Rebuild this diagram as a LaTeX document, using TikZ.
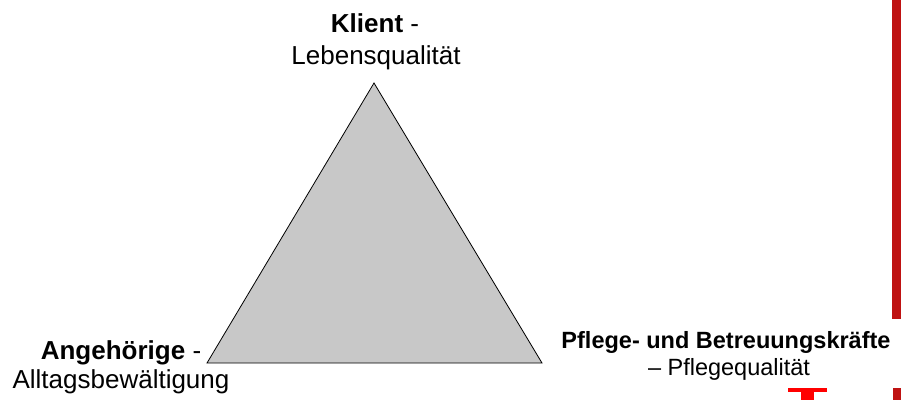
\documentclass[tikz,border=0pt]{standalone}
\usepackage{fontspec}
\setmainfont{Liberation Sans}
\definecolor{darkred}{HTML}{BF1212}
\definecolor{brightred}{HTML}{FF0000}
\definecolor{trigray}{HTML}{C8C8C8}
\tikzset{
  biglabel/.style={anchor=base, inner sep=0pt, font=\fontsize{26}{30}\selectfont},
  smalllabel/.style={anchor=base, inner sep=0pt, font=\fontsize{23.5}{28}\selectfont},
}
\begin{document}
\begin{tikzpicture}[x=1pt,y=-1pt]
\useasboundingbox (0,0) rectangle (901,400);
% triangle
\coordinate (top) at (374,83);
\coordinate (bl) at (207,363);
\coordinate (br) at (542,363);
\draw[fill=trigray, draw=black, line width=0.8pt, line join=miter] (top) -- (br) -- (bl) -- cycle;
% labels
\node[biglabel] (klient) at (375,32) {\textbf{Klient} -};
\node[biglabel] (lebens) at (376,64) {Lebensqualität};
\node[biglabel] (angeh) at (121,359) {\textbf{Angehörige} -};
\node[biglabel] (alltag) at (121,388) {Alltagsbewältigung};
\node[smalllabel] (pflege) at (726,348) {\textbf{Pflege- und Betreuungskräfte}};
\node[smalllabel] (pqual) at (729,375) {– Pflegequalität};
% red decorations
\fill[darkred] (892,0) rectangle (901,319);
\fill[darkred] (893,388) rectangle (901,400);
\fill[brightred] (788,388) rectangle (827,392);
\fill[brightred] (801,388) rectangle (814,400);
\end{tikzpicture}
\end{document}
